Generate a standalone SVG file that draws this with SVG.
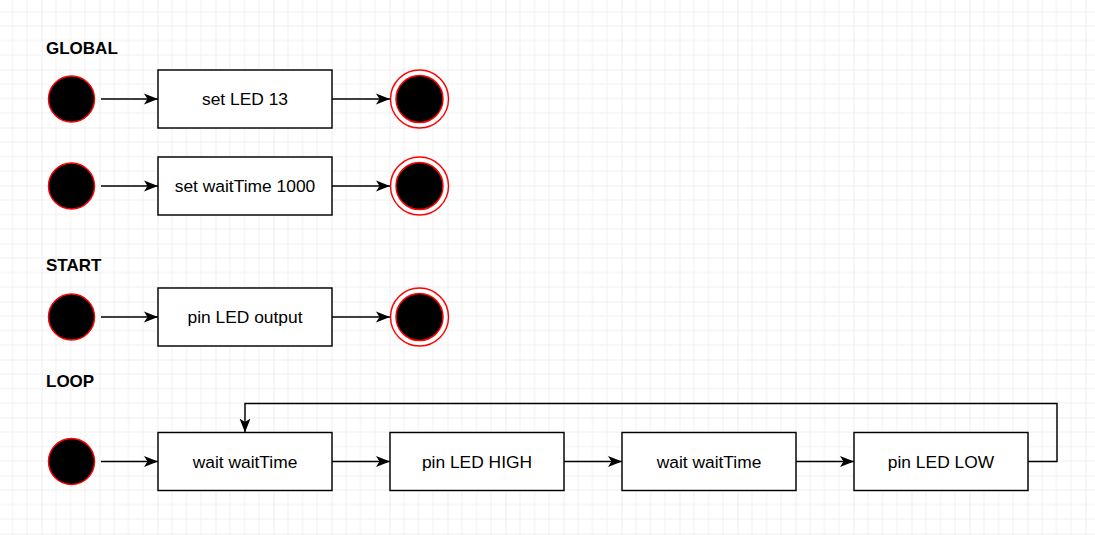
<svg xmlns="http://www.w3.org/2000/svg" width="1095" height="535" viewBox="0 0 1095 535">
<style>
.box{fill:#ffffff;stroke:#000000;stroke-width:1.45}
.start{fill:#000000;stroke:#ff0000;stroke-width:1.45}
.endo{fill:#ffffff;stroke:#ff0000;stroke-width:1.45}
.endi{fill:#000000;stroke:#ff0000;stroke-width:1.45}
.lbl{font-family:"Liberation Sans",Arial,sans-serif;font-size:17.4px;fill:#000000;text-anchor:middle}
.hdr{font-family:"Liberation Sans",Arial,sans-serif;font-size:17px;font-weight:bold;fill:#000000}
.edge{fill:none;stroke:#000000;stroke-width:1.45;marker-end:url(#arr)}
</style>
<defs>
<pattern id="grid" patternUnits="userSpaceOnUse" x="41.5" y="11.5" width="58" height="58">
<path d="M14.5,0V58M29,0V58M43.5,0V58M0,14.5H58M0,29H58M0,43.5H58" stroke="#f0f0f0" stroke-width="1" fill="none"/>
<path d="M0,0V58M0,0H58" stroke="#e0e0e0" stroke-width="1" fill="none"/>
</pattern>
<marker id="arr" markerUnits="userSpaceOnUse" viewBox="0 0 14 12" refX="14" refY="6" markerWidth="14" markerHeight="12" orient="auto">
<path d="M14,6 L0,0.5 L3.5,6 L0,11.5 Z" fill="#000000"/>
</marker>
</defs>
<rect width="1095" height="535" fill="#ffffff"/>
<rect width="1095" height="535" fill="url(#grid)"/>

<text class="hdr" x="46" y="54">GLOBAL</text>
<text class="hdr" x="46" y="271">START</text>
<text class="hdr" x="46" y="387">LOOP</text>

<g id="connectors">
<path class="edge" d="M101,99H158"/>
<path class="edge" d="M332,99H390"/>
<path class="edge" d="M101,186H158"/>
<path class="edge" d="M332,186H390"/>
<path class="edge" d="M101,317H158"/>
<path class="edge" d="M332,317H390"/>
<path class="edge" d="M101,461.5H158"/>
<path class="edge" d="M332,461.5H390"/>
<path class="edge" d="M564,461.5H622"/>
<path class="edge" d="M796,461.5H854"/>
<path class="edge" d="M1028,461.5H1057V403.5H245V432.5"/>
</g>

<g id="start1"><circle class="start" cx="71.5" cy="99" r="23"/></g>
<g id="setLed"><rect class="box" x="158" y="70" width="174" height="58"/><text class="lbl" x="245" y="105">set LED 13</text></g>
<g id="end1"><circle class="endo" cx="419.5" cy="99" r="29"/><circle class="endi" cx="419.5" cy="99" r="23.5"/></g>

<g id="start2"><circle class="start" cx="71.5" cy="186" r="23"/></g>
<g id="setWait"><rect class="box" x="158" y="157" width="174" height="58"/><text class="lbl" x="245" y="192">set waitTime 1000</text></g>
<g id="end2"><circle class="endo" cx="419.5" cy="186" r="29"/><circle class="endi" cx="419.5" cy="186" r="23.5"/></g>

<g id="start3"><circle class="start" cx="71.5" cy="317" r="23"/></g>
<g id="pinOutput"><rect class="box" x="158" y="288" width="174" height="58"/><text class="lbl" x="245" y="323">pin LED output</text></g>
<g id="end3"><circle class="endo" cx="419.5" cy="317" r="29"/><circle class="endi" cx="419.5" cy="317" r="23.5"/></g>

<g id="start4"><circle class="start" cx="71.5" cy="461.5" r="23"/></g>
<g id="wait1"><rect class="box" x="158" y="432.5" width="174" height="58"/><text class="lbl" x="245" y="467.5">wait waitTime</text></g>
<g id="pinHigh"><rect class="box" x="390" y="432.5" width="174" height="58"/><text class="lbl" x="477" y="467.5">pin LED HIGH</text></g>
<g id="wait2"><rect class="box" x="622" y="432.5" width="174" height="58"/><text class="lbl" x="709" y="467.5">wait waitTime</text></g>
<g id="pinLow"><rect class="box" x="854" y="432.5" width="174" height="58"/><text class="lbl" x="941" y="467.5">pin LED LOW</text></g>
</svg>
